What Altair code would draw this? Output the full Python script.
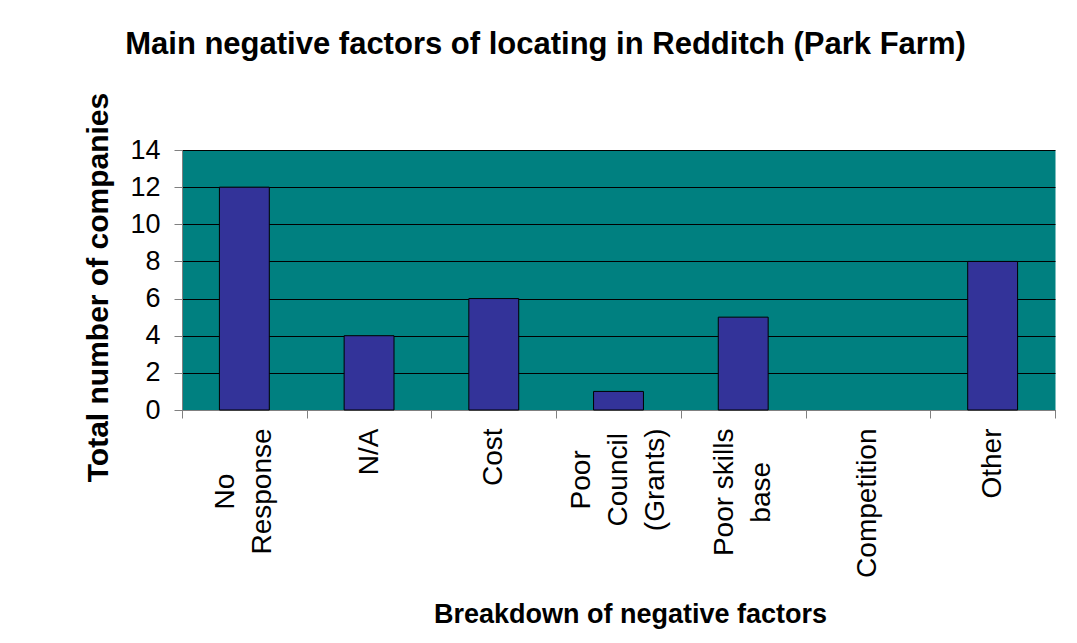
import altair as alt
import pandas as pd

categories = ["No Response", "N/A", "Cost", "Poor Council (Grants)",
              "Poor skills base", "Competition", "Other"]
label_lines = [["No", "Response"], ["N/A"], ["Cost"], ["Poor", "Council", "(Grants)"],
               ["Poor skills", "base"], ["Competition"], ["Other"]]
values = [12, 4, 6, 1, 5, 0, 8]
y_ticks = [0, 2, 4, 6, 8, 10, 12, 14]

df = pd.DataFrame({"factor": categories, "count": values})

LABEL_FS = 28
LINE_H = 37
BASE_PAD = 10

# approximate Arial advance widths (em): used to keep every label block's
# top edge at the same distance from the axis while centring its lines
W = {"N": .722, "o": .556, "R": .722, "e": .556, "s": .5, "p": .556, "n": .556,
     "P": .667, "r": .333, "C": .722, "u": .556, "c": .5, "i": .222, "l": .222,
     "(": .333, "G": .778, "a": .556, "t": .278, ")": .333, " ": .278, "k": .5,
     "b": .556, "/": .278, "A": .667, "O": .778, "h": .556, "m": .833}


def width(s):
    return sum(W.get(ch, .556) for ch in s) * LABEL_FS


lines_map = "{" + ", ".join("'%s': '%s'" % (c, "|".join(l))
                            for c, l in zip(categories, label_lines)) + "}"
pad_map = "{" + ", ".join("'%s': %.1f" % (c, BASE_PAD + max(width(x) for x in l) / 2)
                          for c, l in zip(categories, label_lines)) + "}"

lookup = "%s[datum.label]" % lines_map
label_expr = "isValid(%s) ? split(%s, '|') : ''" % (lookup, lookup)
vlookup = "%s[datum.value]" % lines_map
offset_expr = "isValid(%s) ? -(length(split(%s, '|')) - 1) * %d / 2 : 0" % (
    vlookup, vlookup, LINE_H)
pad_expr = "isValid(%s[datum.value]) ? %s[datum.value] : %d" % (pad_map, pad_map, BASE_PAD)

FONT = "Liberation Sans"

chart = alt.Chart(df).mark_bar(
    color="#333399", stroke="black", strokeWidth=1,
    width=alt.RelativeBandSize(0.4)
).encode(
    x=alt.X("factor:N", sort=categories,
            scale=alt.Scale(paddingInner=0, paddingOuter=0),
            axis=alt.Axis(
                title="Breakdown of negative factors",
                labelExpr=label_expr,
                labelAngle=-90, labelAlign="center", labelBaseline="middle",
                labelOffset=alt.ExprRef(offset_expr),
                labelPadding=alt.ExprRef(pad_expr),
                labelFont=FONT, labelFontSize=LABEL_FS, labelLineHeight=LINE_H,
                labelColor="black",
                tickBand="extent", tickSize=8, tickColor="#808080",
                domainColor="#808080", labelLimit=400,
                titleFont=FONT, titleFontSize=27, titleFontWeight="bold",
                titleColor="black", titleX=448, titleY=212,
                titleAlign="center", titleBaseline="alphabetic",
            )),
    y=alt.Y("count:Q",
            scale=alt.Scale(domain=[0, 14]),
            axis=alt.Axis(
                title="Total number of companies",
                values=y_ticks, grid=True, gridColor="black", gridWidth=1,
                gridOpacity=1,
                labelFont=FONT, labelFontSize=27, labelColor="black",
                labelPadding=14, tickSize=8, tickColor="#808080",
                domainColor="#808080",
                titleFont=FONT, titleFontSize=30, titleFontWeight="bold",
                titleColor="black", titleAngle=270, titleX=-75, titleY=137,
                titleAlign="center", titleBaseline="alphabetic",
            )),
    strokeOpacity=alt.condition(alt.datum.count > 0, alt.value(1), alt.value(0)),
).properties(
    width=873, height=260,
    background="white",
    title=alt.TitleParams(
        "Main negative factors of locating in Redditch (Park Farm)",
        font=FONT, fontSize=31, fontWeight="bold", color="black",
        anchor="middle", frame="group", dx=-73, offset=7,
        baseline="alphabetic",
    ),
    autosize=alt.AutoSizeParams(type="none"),
    padding={"left": 174, "top": 142, "right": 14, "bottom": 225},
).configure_view(
    fill="#008080", stroke="transparent"
)

chart.save("out.html", embed_options={"renderer": "svg", "actions": False})
